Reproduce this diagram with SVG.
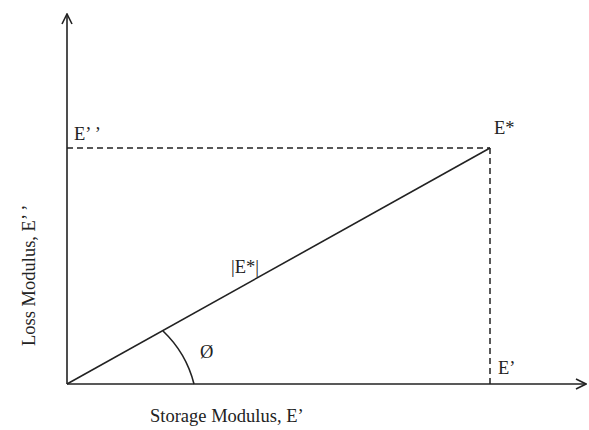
<svg xmlns="http://www.w3.org/2000/svg" width="589" height="430" viewBox="0 0 589 430">
<style>
.ax{stroke:#222;stroke-width:1.6;fill:none}
.ds{stroke:#222;stroke-width:1.5;fill:none;stroke-dasharray:6,4}
.t{font-family:"Liberation Serif",serif;font-size:18.5px;fill:#222}
</style>
<defs>
<marker id="open" viewBox="0 0 12 12" refX="11" refY="6" markerWidth="12" markerHeight="12" markerUnits="userSpaceOnUse" orient="auto">
<path d="M1,1 L11,6 L1,11" fill="none" stroke="#222" stroke-width="1.6"/>
</marker>
</defs>
<rect width="589" height="430" fill="#fff"/>
<g id="connectors">
<line class="ax" x1="67" y1="384" x2="67" y2="14" marker-end="url(#open)"/>
<line class="ax" x1="67" y1="384" x2="586" y2="384" marker-end="url(#open)"/>
<line class="ds" x1="67" y1="148" x2="490" y2="148"/>
<line class="ds" x1="490" y1="148" x2="490" y2="384"/>
<line class="ax" x1="67" y1="384" x2="490" y2="148"/>
<path class="ax" d="M163,331 A110,110 0 0 1 194,384"/>
</g>
<g id="labels">
<text class="t" x="74" y="140">E’ ’</text>
<text class="t" x="494" y="134">E*</text>
<text class="t" x="231" y="273">|E*|</text>
<text class="t" x="200" y="358">Ø</text>
<text class="t" x="498" y="374">E’</text>
<text class="t" x="150" y="422">Storage Modulus,  E’</text>
<text class="t" transform="translate(35,346) rotate(-90)">Loss Modulus,  E’ ’</text>
</g>
</svg>
